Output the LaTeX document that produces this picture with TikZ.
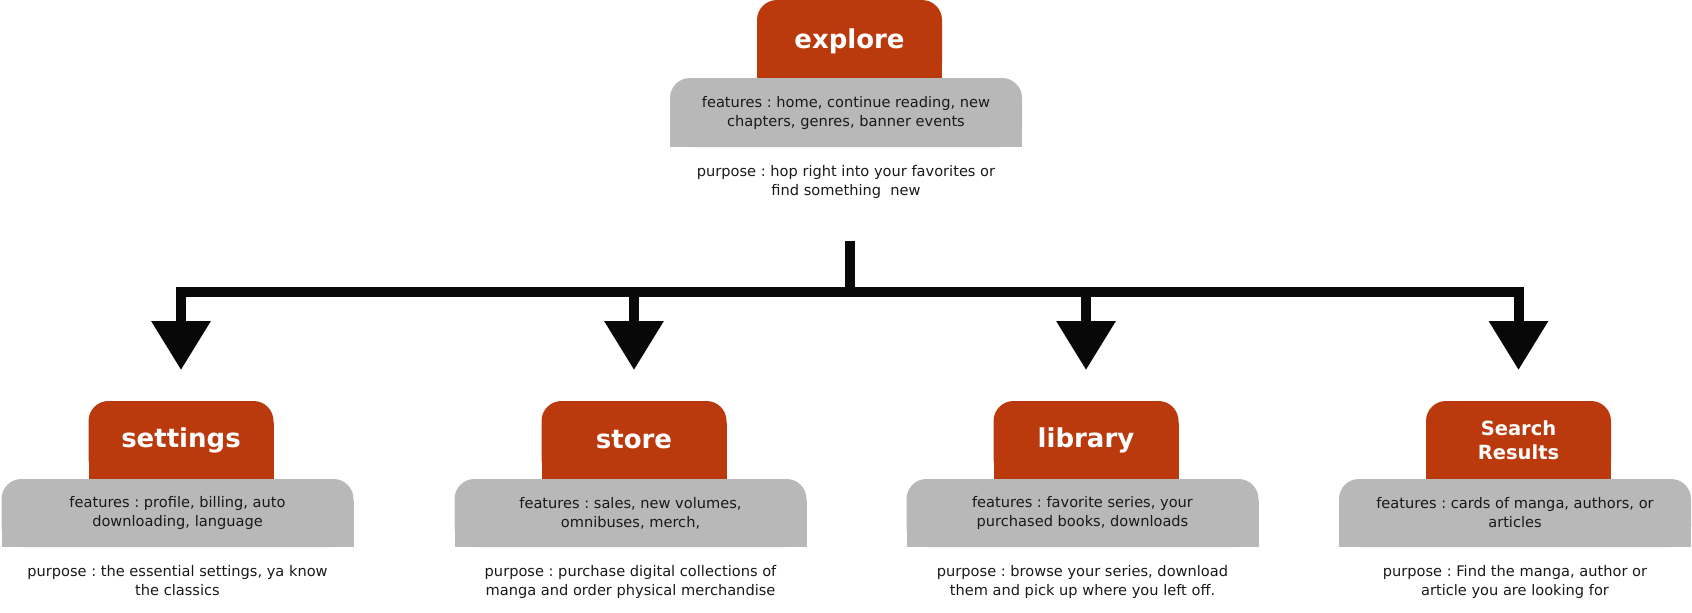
\documentclass[tikz,border=0pt]{standalone}
\usepackage{fontspec}
\setmainfont{DejaVu Sans}
\usetikzlibrary{positioning,arrows.meta,backgrounds}
\definecolor{tabred}{HTML}{BB3A0D}
\definecolor{cardgray}{HTML}{B8B8B8}
\definecolor{inkblack}{HTML}{080808}
\frenchspacing

\begin{document}
\begin{tikzpicture}[x=1pt, y=-1pt,
  tab/.style={fill=tabred, rounded corners=20pt, minimum width=185pt, minimum height=78pt,
    inner sep=0pt, outer sep=0pt, align=center, text=white, font=\fontsize{26}{25}\selectfont\bfseries},
  card/.style={fill=cardgray, rounded corners=20pt, minimum width=352pt, minimum height=68pt,
    inner sep=0pt, outer sep=0pt, align=center, text=black!90, font=\fontsize{14.6}{19}\selectfont},
  note/.style={inner sep=0pt, align=center, text=black!90, font=\fontsize{14.6}{19}\selectfont},
  linkline/.style={draw=inkblack, line width=10pt},
  link/.style={linkline, -{Triangle[width=57pt,length=49pt]}}]
\useasboundingbox (0,0) rectangle (1692,613);

% top page
\node[tab, minimum height=82pt] (explore) at (849.5,41) {explore};
\node[card, minimum height=69pt, below=-4pt of explore, xshift=-3.5pt] (explore-card)
  {features : home, continue reading, new\\chapters, genres, banner events};
\node[note, below=18pt of explore-card] (explore-note)
  {purpose : hop right into your favorites or\\find something\ \ new};
\begin{scope}[on background layer]
  \fill[tabred] ([yshift=-22pt]explore.north west) rectangle (explore.south east);
  \fill[cardgray] ([yshift=-22pt]explore-card.north west) rectangle (explore-card.south east);
\end{scope}

% pages reached from explore
\foreach \name/\x/\ts/\title/\feat/\purp in {
  set/181/26/settings/{features : profile, billing, auto\\downloading, language}/{purpose : the essential settings, ya know\\the classics},
  store/634/26/store/{features : sales, new volumes,\\omnibuses, merch,}/{purpose : purchase digital collections of\\manga and order physical merchandise},
  lib/1086/26/library/{features : favorite series, your\\purchased books, downloads}/{purpose : browse your series, download\\them and pick up where you left off.},
  search/1518.5/19.5/{Search\\Results}/{features : cards of manga, authors, or\\articles}/{purpose : Find the manga, author or\\article you are looking for}}{
  \node[tab, font=\fontsize{\ts}{24}\selectfont\bfseries] (\name) at (\x,440) {\title};
  \node[card, below=0pt of \name, xshift=-3.5pt] (\name-card) {\feat};
  \node[note, below=18pt of \name-card] (\name-note) {\purp};
  \begin{scope}[on background layer]
    \fill[tabred] ([yshift=-22pt]\name.north west) rectangle (\name.south east);
    \fill[cardgray] ([yshift=-22pt]\name-card.north west) rectangle (\name-card.south east);
  \end{scope}
}

% connectors
\coordinate (trunk) at (849.5,241);
\coordinate (bar) at (849.5,291.5);
\draw[linkline] (trunk) -- (trunk |- bar);
\draw[link, {Triangle[width=57pt,length=49pt]}-{Triangle[width=57pt,length=49pt]}]
  ([yshift=31pt]set.north) -- (set.north |- bar) -- (search.north |- bar) -- ([yshift=31pt]search.north);
\draw[link] (store.north |- bar) -- ([yshift=31pt]store.north);
\draw[link] (lib.north |- bar) -- ([yshift=31pt]lib.north);
\end{tikzpicture}
\end{document}
